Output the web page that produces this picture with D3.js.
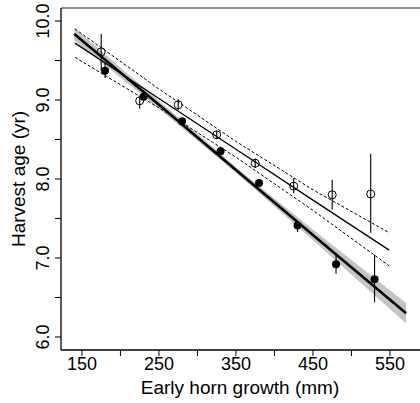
<!DOCTYPE html>
<html><head><meta charset="utf-8">
<script src="https://cdn.jsdelivr.net/npm/d3@7"></script>
<style>body{margin:0;background:#fff}svg{display:block}text{font-family:"Liberation Sans",Arial,sans-serif;fill:#000}</style>
</head><body><div id="c"></div>
<script>
// Data
const openX = [175, 225, 275, 325, 375, 425, 475, 525];
const openY = [9.61, 8.99, 8.94, 8.56, 8.20, 7.91, 7.80, 7.81];
const openLo = [9.37, 8.89, 8.87, 8.51, 8.14, 7.82, 7.61, 7.32];
const openHi = [9.835, 9.04, 9.01, 8.61, 8.26, 8.01, 7.99, 8.32];

const filledX = [180, 230, 280, 330, 380, 430, 480, 530];
const filledY = [9.37, 9.04, 8.73, 8.35, 7.95, 7.41, 6.92, 6.73];
const filledLo = [9.28, 9.01, 8.70, 8.32, 7.92, 7.33, 6.80, 6.44];
const filledHi = [9.47, 9.07, 8.76, 8.38, 7.98, 7.44, 7.04, 7.04];

// fitted line for filled points with confidence band
const fitFX = [140, 250, 355, 460, 571];
const fitFY = [9.835, 8.94, 8.074, 7.21, 6.30];
const bandFLo = [9.755, 8.89, 8.039, 7.14, 6.17];
const bandFHi = [9.915, 8.99, 8.109, 7.28, 6.43];

// fitted line for open points with dashed confidence limits
const fitOX = [141, 250, 350, 450, 549];
const fitOY = [9.72, 9.02, 8.376, 7.733, 7.10];
const ciOLo = [9.54, 8.90, 8.276, 7.603, 6.90];
const ciOHi = [9.90, 9.14, 8.476, 7.863, 7.32];

const xTicks = [150, 200, 250, 300, 350, 400, 450, 500, 550];
const xLabels = [150, 250, 350, 450, 550];
const yTicks = [6.0, 6.5, 7.0, 7.5, 8.0, 8.5, 9.0, 9.5, 10.0];
const yLabels = [6.0, 7.0, 8.0, 9.0, 10.0];

const W = 420, H = 403;
const x = d3.scaleLinear().domain([122.8, 587.2]).range([61, 418.6]);
const y = d3.scaleLinear().domain([5.835, 10.165]).range([350, 8]);

const svg = d3.select("#c").append("svg").attr("width", W).attr("height", H);

// frame top line (cropped box)
svg.append("line").attr("x1", 61).attr("x2", W).attr("y1", y(10.165)).attr("y2", y(10.165))
  .attr("stroke", "#6a6a6a").attr("stroke-width", 1.6);

// band
const bandData = fitFX.map((v, i) => ({x: v, lo: bandFLo[i], hi: bandFHi[i]}));
svg.append("path").datum(bandData)
  .attr("d", d3.area().x(d => x(d.x)).y0(d => y(d.lo)).y1(d => y(d.hi)))
  .attr("fill", "#c4c4c4");

// lines
const ln = d3.line().x(d => x(d[0])).y(d => y(d[1]));
svg.append("path").attr("d", ln(fitFX.map((v, i) => [v, fitFY[i]])))
  .attr("fill", "none").attr("stroke", "#000").attr("stroke-width", 2.6);
svg.append("path").attr("d", ln(fitOX.map((v, i) => [v, fitOY[i]])))
  .attr("fill", "none").attr("stroke", "#000").attr("stroke-width", 1.3);
[ciOLo, ciOHi].forEach(arr => {
  svg.append("path").attr("d", ln(fitOX.map((v, i) => [v, arr[i]])))
    .attr("fill", "none").attr("stroke", "#000").attr("stroke-width", 1).attr("stroke-dasharray", "3,2");
});

// error bars
const eb = svg.append("g").attr("stroke", "#000").attr("stroke-width", 1.1);
openX.forEach((v, i) => eb.append("line").attr("x1", x(v)).attr("x2", x(v)).attr("y1", y(openLo[i])).attr("y2", y(openHi[i])));
filledX.forEach((v, i) => eb.append("line").attr("x1", x(v)).attr("x2", x(v)).attr("y1", y(filledLo[i])).attr("y2", y(filledHi[i])));

// points
svg.append("g").selectAll("circle").data(openX).join("circle")
  .attr("cx", d => x(d)).attr("cy", (d, i) => y(openY[i])).attr("r", 4)
  .attr("fill", "none").attr("stroke", "#000").attr("stroke-width", 1);
svg.append("g").selectAll("circle").data(filledX).join("circle")
  .attr("cx", d => x(d)).attr("cy", (d, i) => y(filledY[i])).attr("r", 4)
  .attr("fill", "#000");

// axes
const xa = svg.append("g").attr("transform", "translate(0,350)");
xa.append("line").attr("x1", 61).attr("x2", W).attr("stroke", "#000").attr("stroke-width", 1.3);
xa.selectAll(".t").data(xTicks).join("line").attr("x1", d => x(d)).attr("x2", d => x(d))
  .attr("y1", 0).attr("y2", 6).attr("stroke", "#000").attr("stroke-width", 1);
xa.selectAll("text").data(xLabels).join("text").attr("x", d => x(d)).attr("y", 20)
  .attr("text-anchor", "middle").attr("font-size", 18).text(d => d);

const ya = svg.append("g").attr("transform", "translate(61,0)");
ya.append("line").attr("y1", 8).attr("y2", 350).attr("stroke", "#000").attr("stroke-width", 1.3);
ya.selectAll(".t").data(yTicks).join("line").attr("y1", d => y(d)).attr("y2", d => y(d))
  .attr("x1", 0).attr("x2", -6).attr("stroke", "#000").attr("stroke-width", 1);
ya.selectAll("text").data(yLabels).join("text")
  .attr("transform", d => `translate(-12,${y(d)}) rotate(-90)`)
  .attr("text-anchor", "middle").attr("font-size", 18).text(d => d.toFixed(1));

svg.append("text").attr("x", 240).attr("y", 394).attr("text-anchor", "middle")
  .attr("font-size", 19).text("Early horn growth (mm)");
svg.append("text").attr("transform", `translate(25,${y(8)}) rotate(-90)`).attr("text-anchor", "middle")
  .attr("font-size", 19).text("Harvest age (yr)");
</script></body></html>
